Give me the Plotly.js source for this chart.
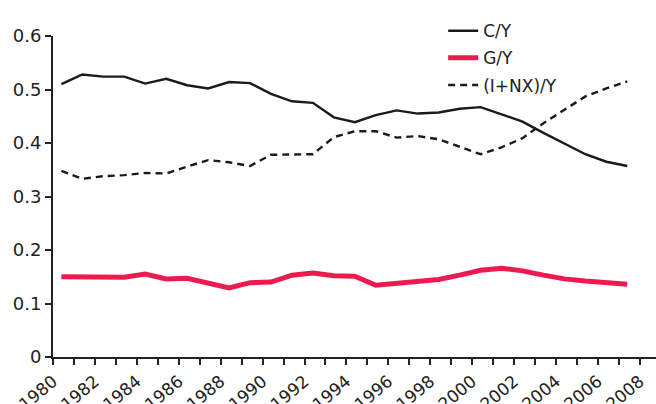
<!DOCTYPE html>
<html>
<head>
<meta charset="utf-8">
<script src="https://cdn.plot.ly/plotly-3.0.1.min.js"></script>
<style>html,body{margin:0;padding:0;background:#fff;}#chart{width:656px;height:404px;}</style>
</head>
<body>
<div id="chart"></div>
<script>
var years = [1980,1981,1982,1983,1984,1985,1986,1987,1988,1989,1990,1991,1992,1993,
             1994,1995,1996,1997,1998,1999,2000,2001,2002,2003,2004,2005,2006,2007];
var cy  = [0.510,0.528,0.524,0.524,0.511,0.520,0.508,0.502,0.514,0.512,0.492,0.478,0.475,0.448,
           0.439,0.452,0.461,0.455,0.457,0.464,0.467,0.454,0.440,0.419,0.399,0.379,0.365,0.357];
var gy  = [0.150,0.150,0.149,0.149,0.155,0.146,0.147,0.138,0.129,0.139,0.140,0.153,0.157,0.152,
           0.151,0.134,0.137,0.140,0.145,0.153,0.162,0.166,0.161,0.153,0.146,0.142,0.138,0.136];
var iny = [0.348,0.333,0.338,0.340,0.344,0.343,0.356,0.368,0.364,0.357,0.378,0.379,0.379,0.411,
           0.422,0.422,0.410,0.413,0.407,0.393,0.379,0.392,0.409,0.437,0.462,0.487,0.502,0.515];
var tickYears = [1980,1981,1982,1983,1984,1985,1986,1987,1988,1989,1990,1991,1992,1993,1994,
                 1995,1996,1997,1998,1999,2000,2001,2002,2003,2004,2005,2006,2007,2008];
var tickLabels = tickYears.map(function(y){ return (y % 2 === 0) ? String(y) : ''; });
var yTicks = [0, 0.1, 0.2, 0.3, 0.4, 0.5, 0.6];
var yTickLabels = ['0', '0.1', '0.2', '0.3', '0.4', '0.5', '0.6'];

var offset = 0.4; // data plotted within each year's interval
var FONT = 'DejaVu Sans, sans-serif';

var traces = [
  {x: years, y: cy, name: 'C/Y', mode: 'lines', legendgroup: 'a',
   line: {color: '#1a1a1a', width: 2.4}},
  {x: years, y: gy, name: 'G/Y', mode: 'lines', legendgroup: 'b',
   line: {color: '#ec1a4e', width: 5}},
  {x: years, y: iny, name: '(I+NX)/Y', mode: 'lines', legendgroup: 'c',
   line: {color: '#1a1a1a', width: 2.4, dash: '7px,5px'}}
];

var layout = {
  width: 656, height: 404,
  margin: {l: 53, r: 0, t: 36, b: 47},
  paper_bgcolor: '#fff', plot_bgcolor: '#fff',
  font: {family: FONT, color: '#222', size: 17},
  showlegend: true,
  legend: {x: 0.647, y: 1.071, xanchor: 'left', yanchor: 'top',
           font: {family: FONT, size: 17, color: '#222'},
           bgcolor: 'rgba(0,0,0,0)', tracegroupgap: 2},
  xaxis: {
    type: 'linear',
    range: [1979.6, 2008.37],
    tickmode: 'array',
    tickvals: tickYears.map(function(y){ return y - offset; }),
    ticktext: tickLabels,
    tickangle: -40,
    ticks: 'outside', ticklen: 6, tickwidth: 2, tickcolor: '#222',
    showline: true, linecolor: '#222', linewidth: 2,
    showgrid: false, zeroline: false,
    tickfont: {family: FONT, size: 17, color: '#222'}
  },
  yaxis: {
    range: [0, 0.6],
    tickmode: 'array',
    tickvals: yTicks,
    ticktext: yTickLabels,
    ticks: 'outside', ticklen: 6, tickwidth: 2, tickcolor: '#222',
    showline: true, linecolor: '#222', linewidth: 2,
    showgrid: false, zeroline: false,
    tickfont: {family: FONT, size: 18, color: '#222'}
  }
};

Plotly.newPlot('chart', traces, layout, {displayModeBar: false, staticPlot: true});
</script>
</body>
</html>
